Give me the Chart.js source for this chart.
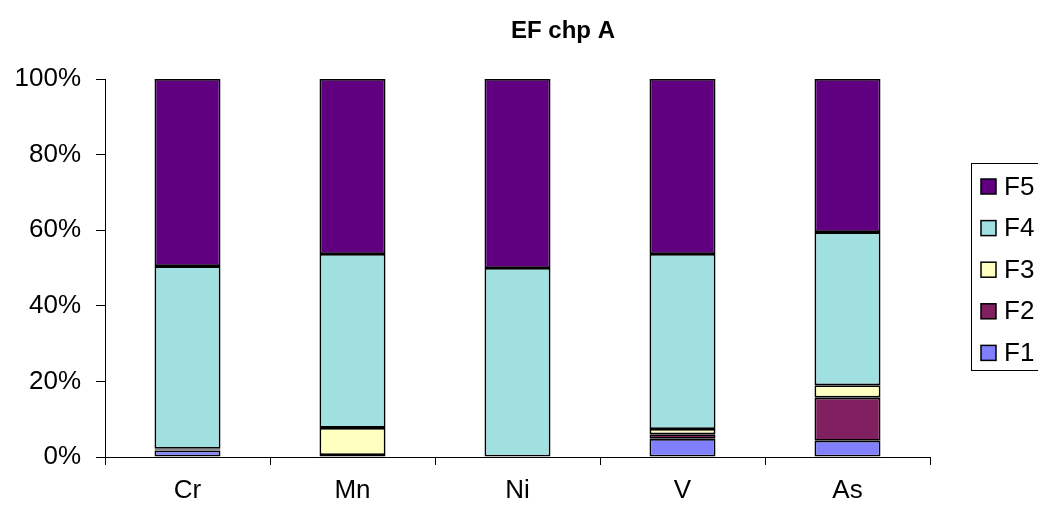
<!DOCTYPE html>
<html>
<head>
<meta charset="utf-8">
<script src="https://cdn.jsdelivr.net/npm/chart.js@4"></script>
<style>
html,body{margin:0;padding:0;background:#fff;}
#wrap{width:1038px;height:510px;position:relative;}
</style>
</head>
<body>
<div id="wrap"><canvas id="c" width="1038" height="510"></canvas></div>
<script>
const categories = ["Cr", "Mn", "Ni", "V", "As"];
const F1 = [1.7, 0.5, 0, 4.8, 4.3];
const F2 = [0.3, 0, 0, 1.2, 11.4];
const F3 = [0.2, 7.2, 0, 1.4, 3.3];
const F4 = [48.3, 46.0, 50.0, 46.3, 40.5];
const F5 = [49.5, 46.3, 50.0, 46.3, 40.5];
const yTicks = [0, 20, 40, 60, 80, 100];
const titleText = "EF chp A";

const series = [
  {label: "F1", data: F1, color: "#8080FF"},
  {label: "F2", data: F2, color: "#802060"},
  {label: "F3", data: F3, color: "#FFFFC0"},
  {label: "F4", data: F4, color: "#A0E0E0"},
  {label: "F5", data: F5, color: "#600080"}
];

const FONT = "'Liberation Sans', Arial, sans-serif";

const customLegend = {
  id: 'customLegend',
  afterDraw(chart) {
    const ctx = chart.ctx;
    ctx.save();
    ctx.strokeStyle = '#000';
    ctx.lineWidth = 1;
    ctx.strokeRect(971.5, 163.5, 80, 207);
    const ds = chart.data.datasets.slice().reverse();
    ds.forEach((d, i) => {
      const y = 186.5 + i * 41.6;
      ctx.fillStyle = d.backgroundColor;
      ctx.fillRect(981, y - 7.5, 15, 15);
      ctx.strokeStyle = '#000';
      ctx.lineWidth = 1.5;
      ctx.strokeRect(981, y - 7.5, 15, 15);
      ctx.fillStyle = '#000';
      ctx.font = "26px " + FONT;
      ctx.textAlign = 'left';
      ctx.textBaseline = 'middle';
      ctx.fillText(d.label, 1004, y + 1);
    });
    ctx.restore();
  }
};

const titlePlugin = {
  id: 'titlePlugin',
  afterDraw(chart) {
    const ctx = chart.ctx;
    ctx.save();
    ctx.fillStyle = '#000';
    ctx.font = "bold 24px " + FONT;
    ctx.textAlign = 'center';
    ctx.textBaseline = 'middle';
    ctx.fillText(titleText, 563, 31);
    ctx.restore();
  }
};

new Chart(document.getElementById('c'), {
  type: 'bar',
  data: {
    labels: categories,
    datasets: series.map(s => ({
      label: s.label,
      data: s.data,
      backgroundColor: s.color,
      borderColor: '#000',
      borderWidth: 1.8,
      borderSkipped: false,
      barPercentage: 0.4,
      categoryPercentage: 1.0
    }))
  },
  options: {
    responsive: false,
    animation: false,
    devicePixelRatio: 1,
    layout: {padding: {top: 79, right: 108, left: 0, bottom: 0}},
    plugins: {legend: {display: false}, title: {display: false}, tooltip: {enabled: false}},
    scales: {
      x: {
        stacked: true,
        grid: {display: true, drawOnChartArea: false, drawTicks: true, tickLength: 8, color: '#000', offset: true},
        border: {display: true, color: '#000', width: 1},
        ticks: {color: '#000', font: {size: 26, family: FONT}, padding: 10},
        afterFit(scale) { scale.height = 53; }
      },
      y: {
        stacked: true,
        min: 0, max: 100,
        afterBuildTicks(scale) { scale.ticks = yTicks.map(v => ({value: v})); },
        grid: {display: true, drawOnChartArea: false, drawTicks: true, tickLength: 9, color: '#000'},
        border: {display: true, color: '#000', width: 1},
        ticks: {color: '#000', font: {size: 26, family: FONT}, padding: 15, callback: v => v + '%'},
        afterFit(scale) { scale.width = 105; }
      }
    }
  },
  plugins: [customLegend, titlePlugin]
});
</script>
</body>
</html>
